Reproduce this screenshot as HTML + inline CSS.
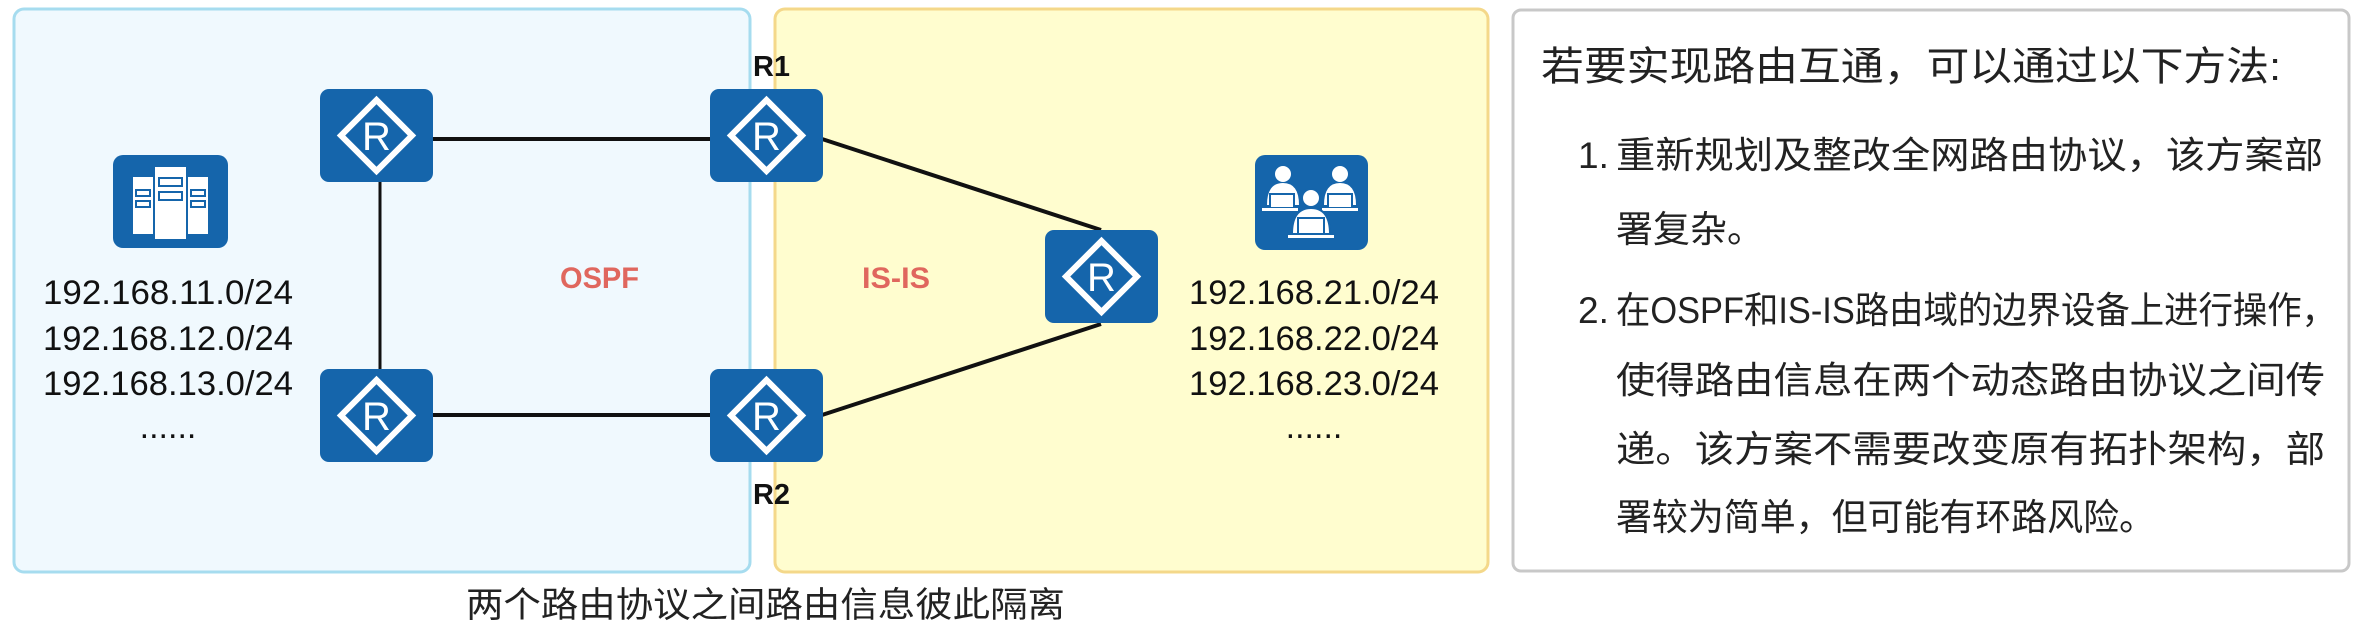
<!DOCTYPE html>
<html><head><meta charset="utf-8"><style>
html,body{margin:0;padding:0;background:#fff;width:2361px;height:626px;overflow:hidden}
svg{display:block}
text{font-family:"Liberation Sans","Noto Sans CJK SC",sans-serif}
</style></head><body>
<svg width="2361" height="626" viewBox="0 0 2361 626" xmlns="http://www.w3.org/2000/svg">
<defs>
<g id="rt">
<rect x="0" y="0" width="113" height="93" rx="9" fill="#1565ab"/>
<polygon points="56.5,11 92,46.5 56.5,82 21,46.5" fill="none" stroke="#fff" stroke-width="6"/>
<text x="56.5" y="61" font-size="40" fill="#fff" text-anchor="middle" font-family="Liberation Sans,sans-serif">R</text>
</g>
</defs>
<rect x="14" y="9" width="736" height="563" rx="10" fill="#f0f9fe" stroke="#a6dcef" stroke-width="3"/>
<rect x="775" y="9" width="713" height="563" rx="10" fill="#fffdcf" stroke="#f4d88a" stroke-width="3"/>
<rect x="1513" y="10" width="836" height="561" rx="8" fill="#fff" stroke="#c8c8c8" stroke-width="3"/>

<g stroke="#111" stroke-width="4" fill="none">
<line x1="433" y1="139" x2="710" y2="139"/>
<line x1="433" y1="415" x2="710" y2="415"/>
<line x1="380" y1="182" x2="380" y2="369" stroke-width="3"/>
<line x1="822" y1="139" x2="1101" y2="230"/>
<line x1="1101" y1="324" x2="822" y2="415"/>
</g>
<use href="#rt" x="320" y="89"/>
<use href="#rt" x="710" y="89"/>
<use href="#rt" x="1045" y="230"/>
<use href="#rt" x="320" y="369"/>
<use href="#rt" x="710" y="369"/>

<g>
<rect x="113" y="155" width="115" height="93" rx="10" fill="#1565ab"/>
<rect x="133" y="177" width="20" height="57" fill="#fff"/>
<rect x="188" y="177" width="20" height="57" fill="#fff"/>
<rect x="155" y="167" width="31" height="72" fill="#fff"/>
<g fill="none" stroke="#1565ab" stroke-width="2">
<rect x="159" y="178" width="23" height="8"/><rect x="159" y="192" width="23" height="8"/>
<rect x="136" y="190" width="14" height="6"/><rect x="136" y="201" width="14" height="6"/>
<rect x="191" y="190" width="14" height="6"/><rect x="191" y="201" width="14" height="6"/>
</g>
</g>
<g fill="#fff">
<rect x="1255" y="155" width="113" height="95" rx="10" fill="#1565ab"/>
<circle cx="1283" cy="174" r="8"/><path d="M1267 205 q0-22 16-22 q16 0 16 22z"/>
<circle cx="1340" cy="174" r="8"/><path d="M1324 205 q0-22 16-22 q16 0 16 22z"/>
<rect x="1270" y="194" width="24" height="14" stroke="#1565ab" stroke-width="2"/>
<rect x="1328" y="194" width="24" height="14" stroke="#1565ab" stroke-width="2"/>
<rect x="1262" y="208" width="36" height="3"/><rect x="1322" y="208" width="36" height="3"/>
<circle cx="1311" cy="198" r="9" stroke="#1565ab" stroke-width="2"/>
<path d="M1292 234 q0-26 19-26 q19 0 19 26z" stroke="#1565ab" stroke-width="2"/>
<rect x="1298" y="218" width="26" height="16" stroke="#1565ab" stroke-width="2"/>
<rect x="1288" y="235" width="46" height="3"/>
</g>

<g font-size="34" fill="#111">
<text x="43" y="304" textLength="250" lengthAdjust="spacingAndGlyphs">192.168.11.0/24</text>
<text x="43" y="350" textLength="250" lengthAdjust="spacingAndGlyphs">192.168.12.0/24</text>
<text x="43" y="395" textLength="250" lengthAdjust="spacingAndGlyphs">192.168.13.0/24</text>
<text x="168" y="438" text-anchor="middle">......</text>
<text x="1189" y="304" textLength="250" lengthAdjust="spacingAndGlyphs">192.168.21.0/24</text>
<text x="1189" y="350" textLength="250" lengthAdjust="spacingAndGlyphs">192.168.22.0/24</text>
<text x="1189" y="395" textLength="250" lengthAdjust="spacingAndGlyphs">192.168.23.0/24</text>
<text x="1314" y="438" text-anchor="middle">......</text>
</g>
<text x="560" y="288" font-size="30" font-weight="bold" fill="#e0675e" textLength="79" lengthAdjust="spacingAndGlyphs">OSPF</text>
<text x="862" y="288" font-size="30" font-weight="bold" fill="#e0675e" textLength="68" lengthAdjust="spacingAndGlyphs">IS-IS</text>
<text x="753" y="76" font-size="29" font-weight="bold" fill="#111" textLength="37" lengthAdjust="spacingAndGlyphs">R1</text>
<text x="753" y="504" font-size="29" font-weight="bold" fill="#111" textLength="37" lengthAdjust="spacingAndGlyphs">R2</text>
<text x="466" y="617" font-size="35" fill="#222" textLength="599" lengthAdjust="spacingAndGlyphs">两个路由协议之间路由信息彼此隔离</text>

<g fill="#222">
<text x="1541" y="80" font-size="40" textLength="740" lengthAdjust="spacingAndGlyphs">若要实现路由互通，可以通过以下方法:</text>
<g font-size="37">
<text x="1578" y="168">1.</text>
<text x="1616" y="168" textLength="707" lengthAdjust="spacingAndGlyphs">重新规划及整改全网路由协议，该方案部</text>
<text x="1616" y="242">署复杂。</text>
<text x="1578" y="323">2.</text>
<text x="1616" y="323" textLength="720" lengthAdjust="spacingAndGlyphs">在OSPF和IS-IS路由域的边界设备上进行操作，</text>
<text x="1616" y="393" textLength="709" lengthAdjust="spacingAndGlyphs">使得路由信息在两个动态路由协议之间传</text>
<text x="1616" y="462" textLength="709" lengthAdjust="spacingAndGlyphs">递。该方案不需要改变原有拓扑架构，部</text>
<text x="1616" y="530" textLength="539" lengthAdjust="spacingAndGlyphs">署较为简单，但可能有环路风险。</text>
</g>
</g>
</svg>
</body></html>
